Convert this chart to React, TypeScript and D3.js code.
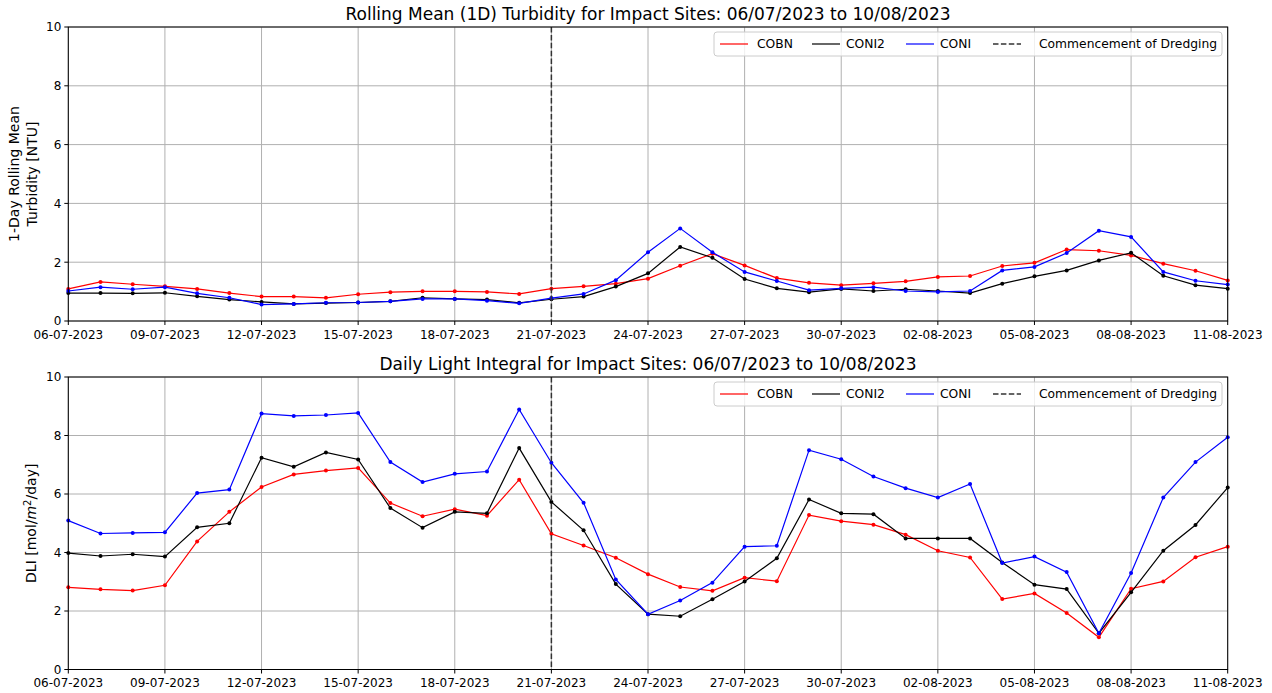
import React from "react";
import * as d3 from "d3";

const dates = [
  "2023-07-06","2023-07-07","2023-07-08","2023-07-09","2023-07-10","2023-07-11","2023-07-12",
  "2023-07-13","2023-07-14","2023-07-15","2023-07-16","2023-07-17","2023-07-18","2023-07-19",
  "2023-07-20","2023-07-21","2023-07-22","2023-07-23","2023-07-24","2023-07-25","2023-07-26",
  "2023-07-27","2023-07-28","2023-07-29","2023-07-30","2023-07-31","2023-08-01","2023-08-02",
  "2023-08-03","2023-08-04","2023-08-05","2023-08-06","2023-08-07","2023-08-08","2023-08-09",
  "2023-08-10","2023-08-11",
];

const xTickDates = [
  "2023-07-06","2023-07-09","2023-07-12","2023-07-15","2023-07-18","2023-07-21","2023-07-24",
  "2023-07-27","2023-07-30","2023-08-02","2023-08-05","2023-08-08","2023-08-11",
];
const yTicks = [0, 2, 4, 6, 8, 10];
const dredgingDate = "2023-07-21";

const turbCOBN = [1.09,1.33,1.25,1.18,1.09,0.95,0.83,0.83,0.79,0.91,0.98,1.01,1.01,0.99,0.92,1.10,1.18,1.27,1.44,1.88,2.29,1.89,1.46,1.30,1.22,1.28,1.35,1.50,1.53,1.87,1.98,2.43,2.39,2.23,1.95,1.71,1.38];
const turbCONI2 = [0.95,0.95,0.94,0.96,0.84,0.73,0.65,0.58,0.61,0.63,0.67,0.79,0.75,0.73,0.62,0.74,0.83,1.17,1.62,2.52,2.15,1.43,1.11,0.98,1.09,1.02,1.08,1.02,0.95,1.27,1.52,1.72,2.06,2.32,1.54,1.22,1.10];
const turbCONI = [1.02,1.15,1.08,1.15,0.94,0.79,0.56,0.58,0.62,0.63,0.67,0.75,0.75,0.69,0.60,0.78,0.92,1.39,2.34,3.15,2.34,1.67,1.36,1.05,1.11,1.15,1.02,0.99,1.02,1.72,1.84,2.31,3.07,2.86,1.67,1.37,1.24];

const dliCOBN = [2.81,2.74,2.70,2.88,4.38,5.39,6.24,6.67,6.80,6.89,5.69,5.24,5.48,5.26,6.49,4.64,4.24,3.82,3.26,2.82,2.69,3.14,3.02,5.28,5.07,4.95,4.61,4.06,3.83,2.41,2.60,1.93,1.10,2.76,3.01,3.84,4.20];
const dliCONI2 = [3.98,3.88,3.94,3.86,4.86,5.00,7.24,6.93,7.42,7.18,5.52,4.85,5.39,5.34,7.57,5.73,4.76,2.92,1.89,1.82,2.40,3.01,3.80,5.81,5.34,5.31,4.48,4.48,4.48,3.66,2.90,2.75,1.24,2.64,4.06,4.94,6.22];
const dliCONI = [5.09,4.65,4.67,4.69,6.03,6.15,8.75,8.67,8.70,8.77,7.09,6.41,6.69,6.77,8.89,7.07,5.70,3.08,1.89,2.36,2.97,4.20,4.23,7.50,7.19,6.60,6.20,5.88,6.34,3.64,3.86,3.33,1.24,3.30,5.88,7.09,7.94];

const seriesNames = ["COBN", "CONI2", "CONI"];
const seriesColors = ["#ff0000", "#000000", "#0000ff"];

const W = 1272;
const H = 693;
const LEFT = 68.3;
const RIGHT = 1227.7;
const FONT = "DejaVu Sans, sans-serif";

const parse = d3.timeParse("%Y-%m-%d");
const fmt = d3.timeFormat("%d-%m-%Y");

const x = d3
  .scaleTime()
  .domain([parse(dates[0])!, parse(dates[dates.length - 1])!])
  .range([LEFT, RIGHT]);

type PanelProps = {
  top: number;
  bottom: number;
  title: string;
  ylabel: React.ReactNode;
  data: number[][];
};

function Legend({ x0, y0 }: { x0: number; y0: number }) {
  const handleX = [6, 98, 192, 279];
  const textX = [43, 132, 226, 325];
  const labels = [...seriesNames, "Commencement of Dredging"];
  const colors = [...seriesColors, "#333333"];
  return (
    <g transform={`translate(${x0},${y0})`}>
      <rect x={0} y={0} width={508} height={24} rx={3} fill="white" fillOpacity={0.8} stroke="#cccccc" strokeWidth={1} />
      {labels.map((l, i) => (
        <g key={l}>
          <line
            x1={handleX[i]}
            x2={handleX[i] + 28}
            y1={12}
            y2={12}
            stroke={colors[i]}
            strokeWidth={i === 3 ? 1.5 : 1.2}
            strokeDasharray={i === 3 ? "5.5,2.4" : undefined}
          />
          <text x={textX[i]} y={16.3} fontSize={12.3} fontFamily={FONT} fill="#000">
            {l}
          </text>
        </g>
      ))}
    </g>
  );
}

function Panel({ top, bottom, title, ylabel, data }: PanelProps) {
  const y = d3.scaleLinear().domain([0, 10]).range([bottom, top]);
  const line = d3
    .line<number>()
    .x((_, i) => x(parse(dates[i])!))
    .y((v) => y(v));
  const dx = x(parse(dredgingDate)!);
  return (
    <g>
      {xTickDates.map((d) => {
        const px = x(parse(d)!);
        return <line key={"gx" + d} x1={px} x2={px} y1={top} y2={bottom} stroke="#b0b0b0" strokeWidth={1} />;
      })}
      {yTicks.map((t) => (
        <line key={"gy" + t} x1={LEFT} x2={RIGHT} y1={y(t)} y2={y(t)} stroke="#b0b0b0" strokeWidth={1} />
      ))}
      {data.map((s, si) => (
        <g key={"s" + si}>
          <path d={line(s) || ""} fill="none" stroke={seriesColors[si]} strokeWidth={1.2} />
          {s.map((v, i) => (
            <circle key={i} cx={x(parse(dates[i])!)} cy={y(v)} r={2} fill={seriesColors[si]} />
          ))}
        </g>
      ))}
      <line x1={dx} x2={dx} y1={top} y2={bottom} stroke="#333333" strokeWidth={1.5} strokeDasharray="5.5,2.4" />
      <rect x={LEFT} y={top} width={RIGHT - LEFT} height={bottom - top} fill="none" stroke="#000" strokeWidth={1} />
      {xTickDates.map((d) => {
        const px = x(parse(d)!);
        return (
          <g key={"xt" + d}>
            <line x1={px} x2={px} y1={bottom} y2={bottom + 4} stroke="#000" strokeWidth={1} />
            <text x={px} y={bottom + 17.5} fontSize={12} fontFamily={FONT} textAnchor="middle" fill="#000">
              {fmt(parse(d)!)}
            </text>
          </g>
        );
      })}
      {yTicks.map((t) => (
        <g key={"yt" + t}>
          <line x1={LEFT - 4} x2={LEFT} y1={y(t)} y2={y(t)} stroke="#000" strokeWidth={1} />
          <text x={LEFT - 7} y={y(t) + 4.3} fontSize={12} fontFamily={FONT} textAnchor="end" fill="#000">
            {t}
          </text>
        </g>
      ))}
      <text x={(LEFT + RIGHT) / 2} y={top - 7.5} fontSize={17} fontFamily={FONT} textAnchor="middle" fill="#000">
        {title}
      </text>
      {ylabel}
      <Legend x0={714} y0={top + 5} />
    </g>
  );
}

export default function App() {
  const topA = 27;
  const botA = 321;
  const topB = 377;
  const botB = 669.5;
  const cA = (topA + botA) / 2;
  const cB = (topB + botB) / 2;
  return (
    <svg width={W} height={H} style={{ position: "absolute", left: 0, top: 0, background: "#fff" }}>
      <rect width={W} height={H} fill="#fff" />
      <Panel
        top={topA}
        bottom={botA}
        title="Rolling Mean (1D) Turbidity for Impact Sites: 06/07/2023 to 10/08/2023"
        data={[turbCOBN, turbCONI2, turbCONI]}
        ylabel={
          <text transform={`translate(0,${cA}) rotate(-90)`} fontSize={14} fontFamily={FONT} textAnchor="middle" fill="#000">
            <tspan x={0} y={19}>1-Day Rolling Mean</tspan>
            <tspan x={0} y={36.5}>Turbidity [NTU]</tspan>
          </text>
        }
      />
      <Panel
        top={topB}
        bottom={botB}
        title="Daily Light Integral for Impact Sites: 06/07/2023 to 10/08/2023"
        data={[dliCOBN, dliCONI2, dliCONI]}
        ylabel={
          <text transform={`translate(36,${cB}) rotate(-90)`} fontSize={14} fontFamily={FONT} textAnchor="middle" fill="#000">
            DLI [mol/<tspan fontStyle="italic">m</tspan>
            <tspan fontSize={10} dy={-5.5}>2</tspan>
            <tspan dy={5.5}>/day]</tspan>
          </text>
        }
      />
    </svg>
  );
}
